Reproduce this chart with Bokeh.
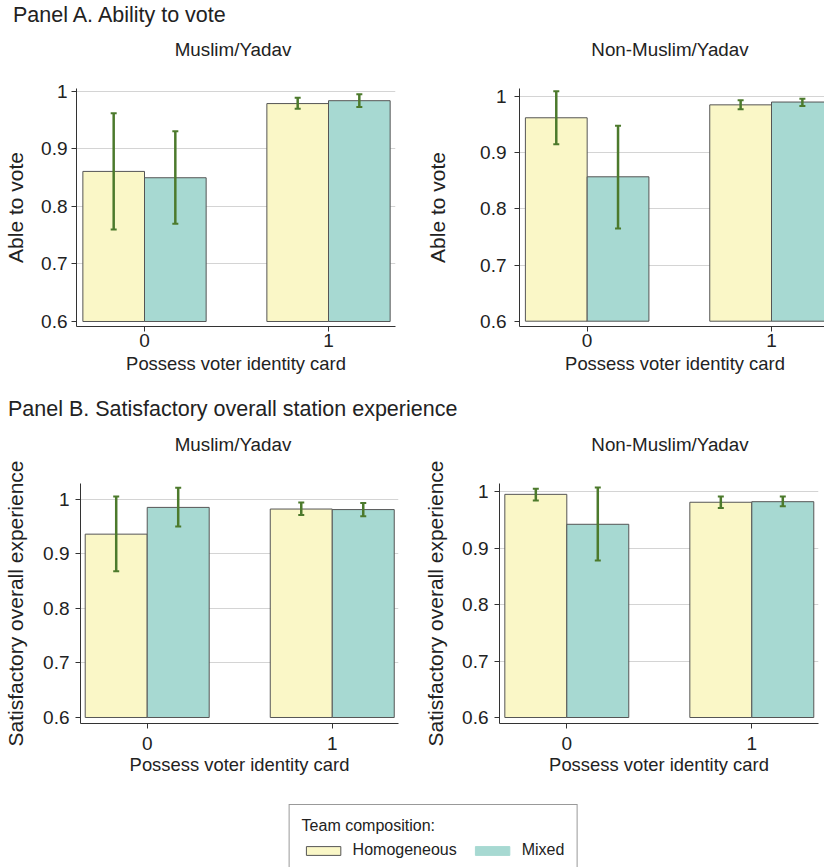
from bokeh.plotting import figure
from bokeh.models import (ColumnDataSource, Whisker, FixedTicker, Range1d, Legend,
                          LegendItem, Div)
from bokeh.layouts import column, row
from bokeh.embed import file_html
from bokeh.resources import INLINE

FONT = "Liberation Sans"
TEXT = "#222222"
YELLOW = "#FAF7C7"
TEAL = "#A7D9D2"
GREEN = "#4C7A2C"
EDGE = "#555555"

# ---------------- data ----------------
card = [0, 1]
card_labels = ["0", "1"]
y_ticks = [0.6, 0.7, 0.8, 0.9, 1.0]
y_tick_labels = ["0.6", "0.7", "0.8", "0.9", "1"]
grid_ticks = [0.7, 0.8, 0.9, 1.0]
groups = ["Homogeneous", "Mixed"]
subtitles = ["Muslim/Yadav", "Non-Muslim/Yadav"]
panel_titles = ["Panel A. Ability to vote",
                "Panel B. Satisfactory overall station experience"]
ylabels = ["Able to vote", "Satisfactory overall experience"]
xlabel = "Possess voter identity card"

# Panel A, Muslim/Yadav
a_my_homog = [0.861, 0.979]
a_my_homog_lo = [0.760, 0.970]
a_my_homog_hi = [0.962, 0.989]
a_my_mixed = [0.850, 0.984]
a_my_mixed_lo = [0.770, 0.973]
a_my_mixed_hi = [0.931, 0.995]
# Panel A, Non-Muslim/Yadav
a_nm_homog = [0.962, 0.985]
a_nm_homog_lo = [0.915, 0.977]
a_nm_homog_hi = [1.009, 0.993]
a_nm_mixed = [0.857, 0.990]
a_nm_mixed_lo = [0.765, 0.983]
a_nm_mixed_hi = [0.948, 0.996]
# Panel B, Muslim/Yadav
b_my_homog = [0.936, 0.982]
b_my_homog_lo = [0.868, 0.971]
b_my_homog_hi = [1.005, 0.994]
b_my_mixed = [0.985, 0.981]
b_my_mixed_lo = [0.950, 0.969]
b_my_mixed_hi = [1.021, 0.993]
# Panel B, Non-Muslim/Yadav
b_nm_homog = [0.995, 0.981]
b_nm_homog_lo = [0.984, 0.971]
b_nm_homog_hi = [1.005, 0.991]
b_nm_mixed = [0.942, 0.982]
b_nm_mixed_lo = [0.878, 0.974]
b_nm_mixed_hi = [1.007, 0.991]

BAR_W = 0.335


def make_panel(ylabel, homog, hlo, hhi, mixed, mlo, mhi,
               xr, yr, fw, fh, bl, br, bt, bb,
               ytick_standoff, ylabel_standoff, xtick_standoff, xlabel_standoff):
    p = figure(x_range=Range1d(*xr), y_range=Range1d(*yr),
               frame_width=fw, frame_height=fh,
               min_border_left=bl, min_border_right=br,
               min_border_top=bt, min_border_bottom=bb,
               output_backend="svg", toolbar_location=None)
    p.outline_line_color = None
    p.background_fill_color = "white"
    p.border_fill_color = "white"

    xh = [c - BAR_W / 2 for c in card]
    xm = [c + BAR_W / 2 for c in card]
    src_h = ColumnDataSource(dict(x=xh, top=homog, lo=hlo, hi=hhi))
    src_m = ColumnDataSource(dict(x=xm, top=mixed, lo=mlo, hi=mhi))
    for src, col in ((src_h, YELLOW), (src_m, TEAL)):
        p.vbar(x="x", top="top", bottom=y_ticks[0], width=BAR_W, source=src,
               fill_color=col, line_color=EDGE, line_width=1)
    for src in (src_h, src_m):
        w = Whisker(source=src, base="x", upper="hi", lower="lo",
                    line_color=GREEN, line_width=2.5, level="annotation")
        for head in (w.upper_head, w.lower_head):
            head.size = 6
            head.line_color = GREEN
            head.line_width = 2
        p.add_layout(w)

    p.xgrid.visible = False
    p.ygrid.ticker = FixedTicker(ticks=grid_ticks)
    p.ygrid.grid_line_color = "#d4d4d4"
    p.ygrid.grid_line_width = 1

    p.yaxis.ticker = FixedTicker(ticks=y_ticks)
    p.yaxis.major_label_overrides = {t: l for t, l in zip(y_ticks, y_tick_labels)}
    p.xaxis.ticker = FixedTicker(ticks=card)
    p.xaxis.major_label_overrides = {t: l for t, l in zip(card, card_labels)}

    p.yaxis.axis_label = ylabel
    p.xaxis.axis_label = xlabel
    for ax in (p.xaxis[0], p.yaxis[0]):
        ax.axis_line_color = "#333333"
        ax.axis_line_width = 1
        ax.major_tick_line_color = "#333333"
        ax.major_tick_out = 5
        ax.major_tick_in = 0
        ax.minor_tick_line_color = None
        ax.major_label_text_font = FONT
        ax.major_label_text_font_size = "19px"
        ax.major_label_text_color = TEXT
        ax.axis_label_text_font = FONT
        ax.axis_label_text_font_style = "normal"
        ax.axis_label_text_color = TEXT
    p.yaxis.axis_label_text_font_size = "21px"
    p.xaxis.axis_label_text_font_size = "18.4px"
    p.yaxis.major_label_standoff = ytick_standoff
    p.yaxis.axis_label_standoff = ylabel_standoff
    p.xaxis.major_label_standoff = xtick_standoff
    p.xaxis.axis_label_standoff = xlabel_standoff
    return p


pa1 = make_panel(ylabels[0],
                 a_my_homog, a_my_homog_lo, a_my_homog_hi,
                 a_my_mixed, a_my_mixed_lo, a_my_mixed_hi,
                 (-0.3696, 1.3641), (0.5913, 1.0052), 319, 238,
                 76, 28, 14, 70, 4, 11, 2, 3)
pa2 = make_panel(ylabels[0],
                 a_nm_homog, a_nm_homog_lo, a_nm_homog_hi,
                 a_nm_mixed, a_nm_mixed_lo, a_nm_mixed_hi,
                 (-0.367, 1.320), (0.5906, 1.0141), 311, 238,
                 90, 0, 14, 70, 8, 28, 2, 3)
pb1 = make_panel(ylabels[1],
                 b_my_homog, b_my_homog_lo, b_my_homog_hi,
                 b_my_mixed, b_my_mixed_lo, b_my_mixed_hi,
                 (-0.3605, 1.358), (0.589, 1.0288), 318, 240,
                 80, 23, 27, 64, 6, 13, 8, 1)
pb2 = make_panel(ylabels[1],
                 b_nm_homog, b_nm_homog_lo, b_nm_homog_hi,
                 b_nm_mixed, b_nm_mixed_lo, b_nm_mixed_hi,
                 (-0.3638, 1.3605), (0.5894, 1.0142), 319, 240,
                 74, 10, 27, 64, 6, 12, 8, 1)


def header(title, title_left, title_top, sub_top, sub_centers, height):
    parts = [f'<div style="position:relative;width:824px;height:{height}px;'
             f'font-family:\'Liberation Sans\';color:#222;">',
             f'<div style="position:absolute;left:{title_left}px;top:{title_top}px;'
             f'font-size:21.5px;line-height:21.5px;white-space:nowrap;">{title}</div>']
    for sub, c in zip(subtitles, sub_centers):
        parts.append(f'<div style="position:absolute;left:{c - 150}px;width:300px;'
                     f'top:{sub_top}px;text-align:center;font-size:18.8px;'
                     f'line-height:18.8px;white-space:nowrap;">{sub}</div>')
    parts.append('</div>')
    return Div(text="".join(parts), width=824, height=height, margin=0)


head_a = header(panel_titles[0], 13, 4.5, 41, (233, 670), 74)
head_b = header(panel_titles[1], 8, 2.5, 40, (233, 670), 60)

# legend: its swatch renderers hold real data, but the view range is kept off them
lf = figure(x_range=Range1d(10, 11), y_range=Range1d(10, 11),
            frame_width=782, frame_height=80,
            min_border_left=42, min_border_right=0, min_border_top=0, min_border_bottom=0,
            x_axis_type=None, y_axis_type=None,
            output_backend="svg", toolbar_location=None)
lf.outline_line_color = None
lf.border_fill_color = "white"
r1 = lf.vbar(x=card, top=a_my_homog, width=BAR_W, fill_color=YELLOW, line_color=EDGE)
r2 = lf.vbar(x=card, top=a_my_mixed, width=BAR_W, fill_color=TEAL, line_color=TEAL)
legend = Legend(items=[LegendItem(label=groups[0], renderers=[r1]),
                       LegendItem(label=groups[1], renderers=[r2])],
                title="Team composition:", orientation="horizontal",
                location="top_center", margin=17, padding=12,
                spacing=14, label_standoff=8, glyph_width=43, glyph_height=11,
                title_standoff=6,
                border_line_color="#333333", border_line_width=1,
                background_fill_color="white", background_fill_alpha=1)
legend.title_text_font = FONT
legend.title_text_font_size = "16px"
legend.title_text_font_style = "normal"
legend.title_text_color = TEXT
legend.label_text_font = FONT
legend.label_text_font_size = "16px"
legend.label_text_color = TEXT
lf.add_layout(legend, "center")

layout = column(head_a, row(pa1, pa2), head_b, row(pb1, pb2), lf)

open("out.html", "w").write(file_html(layout, INLINE))
